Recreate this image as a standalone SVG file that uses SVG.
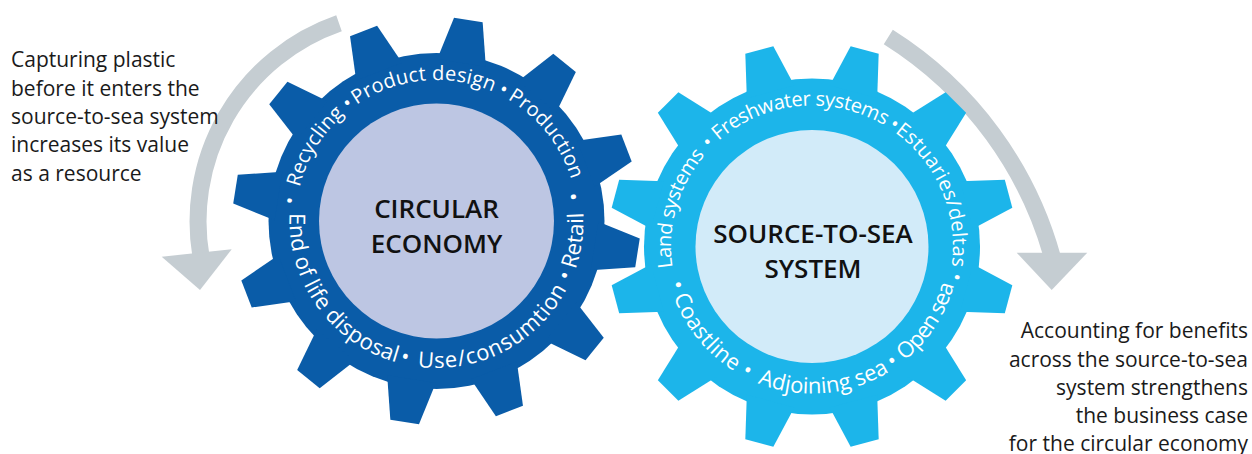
<svg xmlns="http://www.w3.org/2000/svg" xmlns:xlink="http://www.w3.org/1999/xlink" width="1252" height="454" viewBox="0 0 1252 454">
<style>
.note{font-family:"Open Sans","Liberation Sans",sans-serif;font-size:21px;fill:#1a1a1a}
.rt{font-family:"Open Sans","Liberation Sans",sans-serif;font-size:20px;fill:#ffffff;text-anchor:middle}
.rb{font-family:"Open Sans","Liberation Sans",sans-serif;font-size:22px;fill:#ffffff;text-anchor:middle}
.title{font-family:"Open Sans","Liberation Sans",sans-serif;font-size:26px;font-weight:600;fill:#111111;text-anchor:middle}
.arc{fill:none;stroke:#c5cdd2;stroke-width:17}
.head{fill:#c5cdd2}
.dark{fill:#0a5ca8}
.light{fill:#1cb5ea}
</style>
<defs>
<polygon id="tooth" points="-24.6,-160 -14.5,-203.5 14.5,-203.5 24.6,-160"/>
<path id="lt" d="M 436.5 362 A 141 141 0 1 1 436.5 80 A 141 141 0 1 1 436.5 362"/>
<path id="lb" d="M 436.5 74 A 147 147 0 1 0 436.5 368 A 147 147 0 1 0 436.5 74"/>
<path id="rtp" d="M 812 387.5 A 141 141 0 1 1 812 105.5 A 141 141 0 1 1 812 387.5"/>
<path id="rbp" d="M 812 99.5 A 147 147 0 1 0 812 393.5 A 147 147 0 1 0 812 99.5"/>
</defs>

<g id="connectors">
<path class="arc" d="M 339 23.3 A 209.6 209.6 0 0 0 201.9 261.4"/>
<polygon class="head" points="161.7,256.7 231.7,249.3 200,290"/>
<path class="arc" d="M 888.3 37 A 380.4 380.4 0 0 1 1054.1 263.7"/>
<polygon class="head" points="1016.7,252.7 1087.3,252.7 1051.7,290"/>
</g>

<g id="note-left">
<text class="note" x="11" y="67.3">Capturing plastic</text>
<text class="note" x="11" y="95.6">before it enters the</text>
<text class="note" x="11" y="123.9">source-to-sea system</text>
<text class="note" x="11" y="152.2">increases its value</text>
<text class="note" x="11" y="180.5">as a resource</text>
</g>

<g id="note-right" text-anchor="end">
<text class="note" x="1248" y="338.3">Accounting for benefits</text>
<text class="note" x="1248" y="366.6">across the source-to-sea</text>
<text class="note" x="1248" y="394.9">system strengthens</text>
<text class="note" x="1248" y="423.2">the business case</text>
<text class="note" x="1248" y="450.8">for the circular economy</text>
</g>

<g id="circular-economy">
<g class="dark" transform="translate(436.5 221)">
<circle r="168"/>
<use xlink:href="#tooth" transform="rotate(9)"/>
<use xlink:href="#tooth" transform="rotate(39)"/>
<use xlink:href="#tooth" transform="rotate(69)"/>
<use xlink:href="#tooth" transform="rotate(99)"/>
<use xlink:href="#tooth" transform="rotate(129)"/>
<use xlink:href="#tooth" transform="rotate(159)"/>
<use xlink:href="#tooth" transform="rotate(189)"/>
<use xlink:href="#tooth" transform="rotate(219)"/>
<use xlink:href="#tooth" transform="rotate(249)"/>
<use xlink:href="#tooth" transform="rotate(279)"/>
<use xlink:href="#tooth" transform="rotate(309)"/>
<use xlink:href="#tooth" transform="rotate(339)"/>
</g>
<circle cx="436.5" cy="221" r="117.5" fill="#bdc6e3"/>
<text class="rt"><textPath xlink:href="#lt" startOffset="27.22%">•</textPath></text>
<text class="rt"><textPath xlink:href="#lt" startOffset="33.75%" textLength="87" lengthAdjust="spacing">Recycling</textPath></text>
<text class="rt"><textPath xlink:href="#lt" startOffset="39.72%">•</textPath></text>
<text class="rt"><textPath xlink:href="#lt" startOffset="48.47%" textLength="143" lengthAdjust="spacing">Product design</textPath></text>
<text class="rt"><textPath xlink:href="#lt" startOffset="57.5%">•</textPath></text>
<text class="rt"><textPath xlink:href="#lt" startOffset="64.31%" textLength="105" lengthAdjust="spacing">Production</textPath></text>
<text class="rb"><textPath xlink:href="#lb" startOffset="77.78%">•</textPath></text>
<text class="rb"><textPath xlink:href="#lb" startOffset="72.78%" textLength="58" lengthAdjust="spacing">Retail</textPath></text>
<text class="rb"><textPath xlink:href="#lb" startOffset="68.61%">•</textPath></text>
<text class="rb"><textPath xlink:href="#lb" startOffset="57.64%" textLength="179" lengthAdjust="spacing">Use/consumtion</textPath></text>
<text class="rb"><textPath xlink:href="#lb" startOffset="46.39%">•</textPath></text>
<text class="rb"><textPath xlink:href="#lb" startOffset="34.86%" textLength="198" lengthAdjust="spacing">End of life disposal</textPath></text>
<text class="title" x="436.5" y="218.3">CIRCULAR</text>
<text class="title" x="436.5" y="252.7">ECONOMY</text>
</g>

<g id="source-to-sea">
<g class="light" transform="translate(812 246.5)">
<circle r="168"/>
<use xlink:href="#tooth" transform="rotate(15)"/>
<use xlink:href="#tooth" transform="rotate(45)"/>
<use xlink:href="#tooth" transform="rotate(75)"/>
<use xlink:href="#tooth" transform="rotate(105)"/>
<use xlink:href="#tooth" transform="rotate(135)"/>
<use xlink:href="#tooth" transform="rotate(165)"/>
<use xlink:href="#tooth" transform="rotate(195)"/>
<use xlink:href="#tooth" transform="rotate(225)"/>
<use xlink:href="#tooth" transform="rotate(255)"/>
<use xlink:href="#tooth" transform="rotate(285)"/>
<use xlink:href="#tooth" transform="rotate(315)"/>
<use xlink:href="#tooth" transform="rotate(345)"/>
</g>
<circle cx="812" cy="246.5" r="116.5" fill="#d2ebf9"/>
<text class="rt"><textPath xlink:href="#rtp" startOffset="29.44%" textLength="121" lengthAdjust="spacing">Land systems</textPath></text>
<text class="rt"><textPath xlink:href="#rtp" startOffset="37.5%">•</textPath></text>
<text class="rt"><textPath xlink:href="#rtp" startOffset="48.54%" textLength="178" lengthAdjust="spacing">Freshwater systems</textPath></text>
<text class="rt"><textPath xlink:href="#rtp" startOffset="59.44%">•</textPath></text>
<text class="rt"><textPath xlink:href="#rtp" startOffset="68.61%" textLength="153" lengthAdjust="spacing">Estuaries/deltas</textPath></text>
<text class="rt"><textPath xlink:href="#rtp" startOffset="78.33%">•</textPath></text>
<text class="rb"><textPath xlink:href="#rbp" startOffset="65.83%" textLength="92" lengthAdjust="spacing">Open sea</textPath></text>
<text class="rb"><textPath xlink:href="#rbp" startOffset="59.72%">•</textPath></text>
<text class="rb"><textPath xlink:href="#rbp" startOffset="51.39%" textLength="137" lengthAdjust="spacing">Adjoining sea</textPath></text>
<text class="rb"><textPath xlink:href="#rbp" startOffset="42.36%">•</textPath></text>
<text class="rb"><textPath xlink:href="#rbp" startOffset="35.83%" textLength="98" lengthAdjust="spacing">Coastline</textPath></text>
<text class="rb"><textPath xlink:href="#rbp" startOffset="29.44%">•</textPath></text>
<text class="title" x="813" y="243.3">SOURCE-TO-SEA</text>
<text class="title" x="813" y="278.3">SYSTEM</text>
</g>
</svg>
